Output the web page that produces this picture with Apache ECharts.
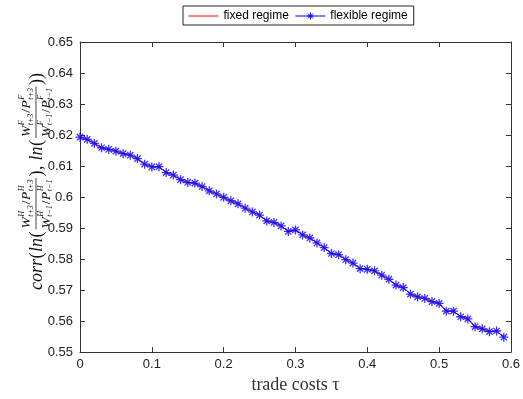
<!DOCTYPE html>
<html>
<head>
<meta charset="utf-8">
<script src="https://cdn.jsdelivr.net/npm/echarts@6/dist/echarts.min.js"></script>
<style>
  html, body { margin: 0; padding: 0; background: #fff; }
  #chart { width: 523px; height: 399px; }
</style>
</head>
<body>
<div id="chart"></div>
<script>
// trade costs (x)
const tau = [
  0.00, 0.01, 0.02, 0.03, 0.04, 0.05, 0.06, 0.07, 0.08, 0.09,
  0.10, 0.11, 0.12, 0.13, 0.14, 0.15, 0.16, 0.17, 0.18, 0.19,
  0.20, 0.21, 0.22, 0.23, 0.24, 0.25, 0.26, 0.27, 0.28, 0.29,
  0.30, 0.31, 0.32, 0.33, 0.34, 0.35, 0.36, 0.37, 0.38, 0.39,
  0.40, 0.41, 0.42, 0.43, 0.44, 0.45, 0.46, 0.47, 0.48, 0.49,
  0.50, 0.51, 0.52, 0.53, 0.54, 0.55, 0.56, 0.57, 0.58, 0.59
]
const fixedRegime = [
  0.6193, 0.6186, 0.6173, 0.6159, 0.6154, 0.6148, 0.6140, 0.6135, 0.6124, 0.6106,
  0.6097, 0.6098, 0.6079, 0.6071, 0.6056, 0.6047, 0.6045, 0.6034, 0.6020, 0.6010,
  0.5999, 0.5988, 0.5978, 0.5964, 0.5952, 0.5942, 0.5923, 0.5918, 0.5907, 0.5889,
  0.5894, 0.5878, 0.5868, 0.5852, 0.5837, 0.5818, 0.5814, 0.5798, 0.5787, 0.5769,
  0.5767, 0.5762, 0.5748, 0.5735, 0.5716, 0.5708, 0.5687, 0.5678, 0.5673, 0.5663,
  0.5657, 0.5632, 0.5632, 0.5614, 0.5607, 0.5582, 0.5575, 0.5566, 0.5568, 0.5548
]
const flexibleRegime = [
  0.6193, 0.6186, 0.6173, 0.6159, 0.6154, 0.6148, 0.6140, 0.6135, 0.6124, 0.6106,
  0.6097, 0.6098, 0.6079, 0.6071, 0.6056, 0.6047, 0.6045, 0.6034, 0.6020, 0.6010,
  0.5999, 0.5988, 0.5978, 0.5964, 0.5952, 0.5942, 0.5923, 0.5918, 0.5907, 0.5889,
  0.5894, 0.5878, 0.5868, 0.5852, 0.5837, 0.5818, 0.5814, 0.5798, 0.5787, 0.5769,
  0.5767, 0.5762, 0.5748, 0.5735, 0.5716, 0.5708, 0.5687, 0.5678, 0.5673, 0.5663,
  0.5657, 0.5632, 0.5632, 0.5614, 0.5607, 0.5582, 0.5575, 0.5566, 0.5568, 0.5548
]
const seriesNames = ['fixed regime', 'flexible regime']

const asterisk = 'path://M0,5L10,5M5,0L5,10M1.5,1.5L8.5,8.5M8.5,1.5L1.5,8.5'
// legend icons: line only / line with asterisk (zero-length corners fix the box at 30x8)
const redIcon = 'path://M0,0L0,0M30,8L30,8M0,4L30,4'
const blueIcon = 'path://M0,0L0,0M30,8L30,8M0,4L30,4M15,0.5L15,7.5M11.5,4L18.5,4M12.5,1.5L17.5,6.5M17.5,1.5L12.5,6.5'
const axisColor = '#333'
const sans = '"Liberation Sans", Arial, sans-serif'
const serif = '"Liberation Serif", "Times New Roman", serif'

const pairs = arr => arr.map((v, i) => [tau[i], v])

// --- y label: corr(ln(frac), ln(frac)) built from text pieces ---
const mctx = document.createElement('canvas').getContext('2d')
function tw(s, font) { mctx.font = font; return mctx.measureText(s).width }
function fontOf(size, italic) { return (italic ? 'italic ' : '') + size + 'px ' + serif }

function txt(s, x, y, size, italic) {
  return {
    type: 'text', x: x, y: y, silent: true,
    style: { text: s, font: fontOf(size, italic), fill: '#111', align: 'left', verticalAlign: 'middle' }
  }
}

// row of scripted terms like W^H_{t+3}/P^H_{t+3}
function scriptRow(terms, size, cy) {
  const els = []
  let x = 0
  const small = Math.round(size * 0.62)
  terms.forEach(t => {
    if (typeof t === 'string') {
      els.push(txt(t, x + 0.5, cy, size, false))
      x += tw(t, fontOf(size, false)) + 1
    } else {
      els.push(txt(t[0], x, cy, size, true))
      x += tw(t[0], fontOf(size, true)) + 0.5
      els.push(txt(t[1], x, cy - size * 0.36, small, true))
      els.push(txt(t[2], x, cy + size * 0.3, small, true))
      x += Math.max(tw(t[1], fontOf(small, true)), tw(t[2], fontOf(small, true))) + 0.5
    }
  })
  return { els: els, width: x }
}

function fraction(num, den, x0, size, barY) {
  const n = scriptRow(num, size, barY - size * 0.68)
  const d = scriptRow(den, size, barY + size * 0.74)
  const w = Math.max(n.width, d.width) + 2
  const shift = (row, rw) => row.els.forEach(e => { e.x += x0 + (w - rw) / 2 })
  shift(n, n.width); shift(d, d.width)
  const bar = {
    type: 'line', silent: true,
    shape: { x1: x0, y1: barY, x2: x0 + w, y2: barY },
    style: { stroke: '#111', lineWidth: 0.8 }
  }
  return { els: n.els.concat(d.els, [bar]), width: w }
}

function buildYLabel() {
  const size = 18
  const fsize = 13.5
  const barY = -1
  const kids = []
  let x = 0
  const add = (s, italic) => { kids.push(txt(s, x, 0, size, italic)); x += tw(s, fontOf(size, italic)) + 0.5 }
  add('corr', true); add('(', false); add('ln', true); add('(', false)
  const f1 = fraction([['W', 'H', 't+3'], '/', ['P', 'H', 't+3']], [['W', 'H', 't−1'], '/', ['P', 'H', 't−1']], x + 1.5, fsize, barY)
  kids.push(...f1.els); x += f1.width + 3
  add(')', false); add(', ', false); add('ln', true); add('(', false)
  const f2 = fraction([['W', 'F', 't+3'], '/', ['P', 'F', 't+3']], [['W', 'F', 't−1'], '/', ['P', 'F', 't−1']], x + 1.5, fsize, barY)
  kids.push(...f2.els); x += f2.width + 3
  add('))', false)
  return { kids: kids, width: x }
}
const yLabel = buildYLabel()

const chart = echarts.init(document.getElementById('chart'), null, { renderer: 'canvas' })

const option = {
  animation: false,
  backgroundColor: '#fff',
  grid: { left: 80, right: 11, top: 42, bottom: 45 },
  legend: {
    data: [
      { name: seriesNames[0], icon: redIcon, itemStyle: { color: '#ff0000', borderColor: '#ff0000', borderWidth: 1 } },
      { name: seriesNames[1], icon: blueIcon, itemStyle: { color: '#0000ff', borderColor: '#0000ff', borderWidth: 1 } }
    ],
    left: 183,
    top: 6,
    padding: [4, 6, 3, 5],
    itemGap: 6,
    itemWidth: 30,
    itemHeight: 8,
    borderColor: '#222',
    borderWidth: 1,
    textStyle: { fontFamily: sans, fontSize: 12, color: '#000' }
  },
  xAxis: [
    {
      type: 'value', min: 0, max: 0.6, interval: 0.1,
      name: 'trade costs τ', nameLocation: 'middle', nameGap: 22,
      nameTextStyle: { fontFamily: serif, fontSize: 18, color: '#333' },
      axisLine: { onZero: false, lineStyle: { color: axisColor, width: 1 } },
      axisTick: { inside: true, length: 5, lineStyle: { color: axisColor } },
      axisLabel: { fontFamily: sans, fontSize: 13, color: '#222', margin: 6,
        formatter: v => String(+v.toFixed(2)) },
      splitLine: { show: false }
    },
    {
      type: 'value', position: 'top', min: 0, max: 0.6, interval: 0.1,
      axisLine: { onZero: false, lineStyle: { color: axisColor, width: 1 } },
      axisTick: { inside: true, length: 5, lineStyle: { color: axisColor } },
      axisLabel: { show: false },
      splitLine: { show: false }
    }
  ],
  yAxis: [
    {
      type: 'value', min: 0.55, max: 0.65, interval: 0.01,
      axisLine: { show: true, onZero: false, lineStyle: { color: axisColor, width: 1 } },
      axisTick: { show: true, inside: true, length: 5, lineStyle: { color: axisColor } },
      axisLabel: { fontFamily: sans, fontSize: 13, color: '#222', margin: 7,
        formatter: v => String(+v.toFixed(2)) },
      splitLine: { show: false }
    },
    {
      type: 'value', position: 'right', min: 0.55, max: 0.65, interval: 0.01,
      axisLine: { show: true, onZero: false, lineStyle: { color: axisColor, width: 1 } },
      axisTick: { show: true, inside: true, length: 5, lineStyle: { color: axisColor } },
      axisLabel: { show: false },
      splitLine: { show: false }
    }
  ],
  series: [
    {
      name: 'flexible regime', type: 'line', z: 2,
      data: pairs(flexibleRegime),
      symbol: asterisk, symbolSize: 9, showSymbol: false,
      lineStyle: { color: '#0000ff', width: 1 },
      itemStyle: { color: '#0000ff', borderColor: '#0000ff', borderWidth: 1.3 }
    },
    {
      name: 'fixed regime', type: 'line', z: 3,
      data: pairs(fixedRegime),
      symbol: 'none',
      lineStyle: { color: '#ff0000', width: 1 },
      itemStyle: { color: '#ff0000' }
    },
    {
      name: 'flexible markers', type: 'scatter', z: 4, silent: true,
      data: pairs(flexibleRegime),
      symbol: asterisk, symbolSize: 9,
      itemStyle: { color: '#0000ff', borderColor: '#0000ff', borderWidth: 1.3 }
    }
  ],
  graphic: [
    {
      type: 'group',
      x: 37,
      y: 290,
      rotation: Math.PI / 2,
      children: yLabel.kids
    }
  ]
}

chart.setOption(option)
</script>
</body>
</html>
